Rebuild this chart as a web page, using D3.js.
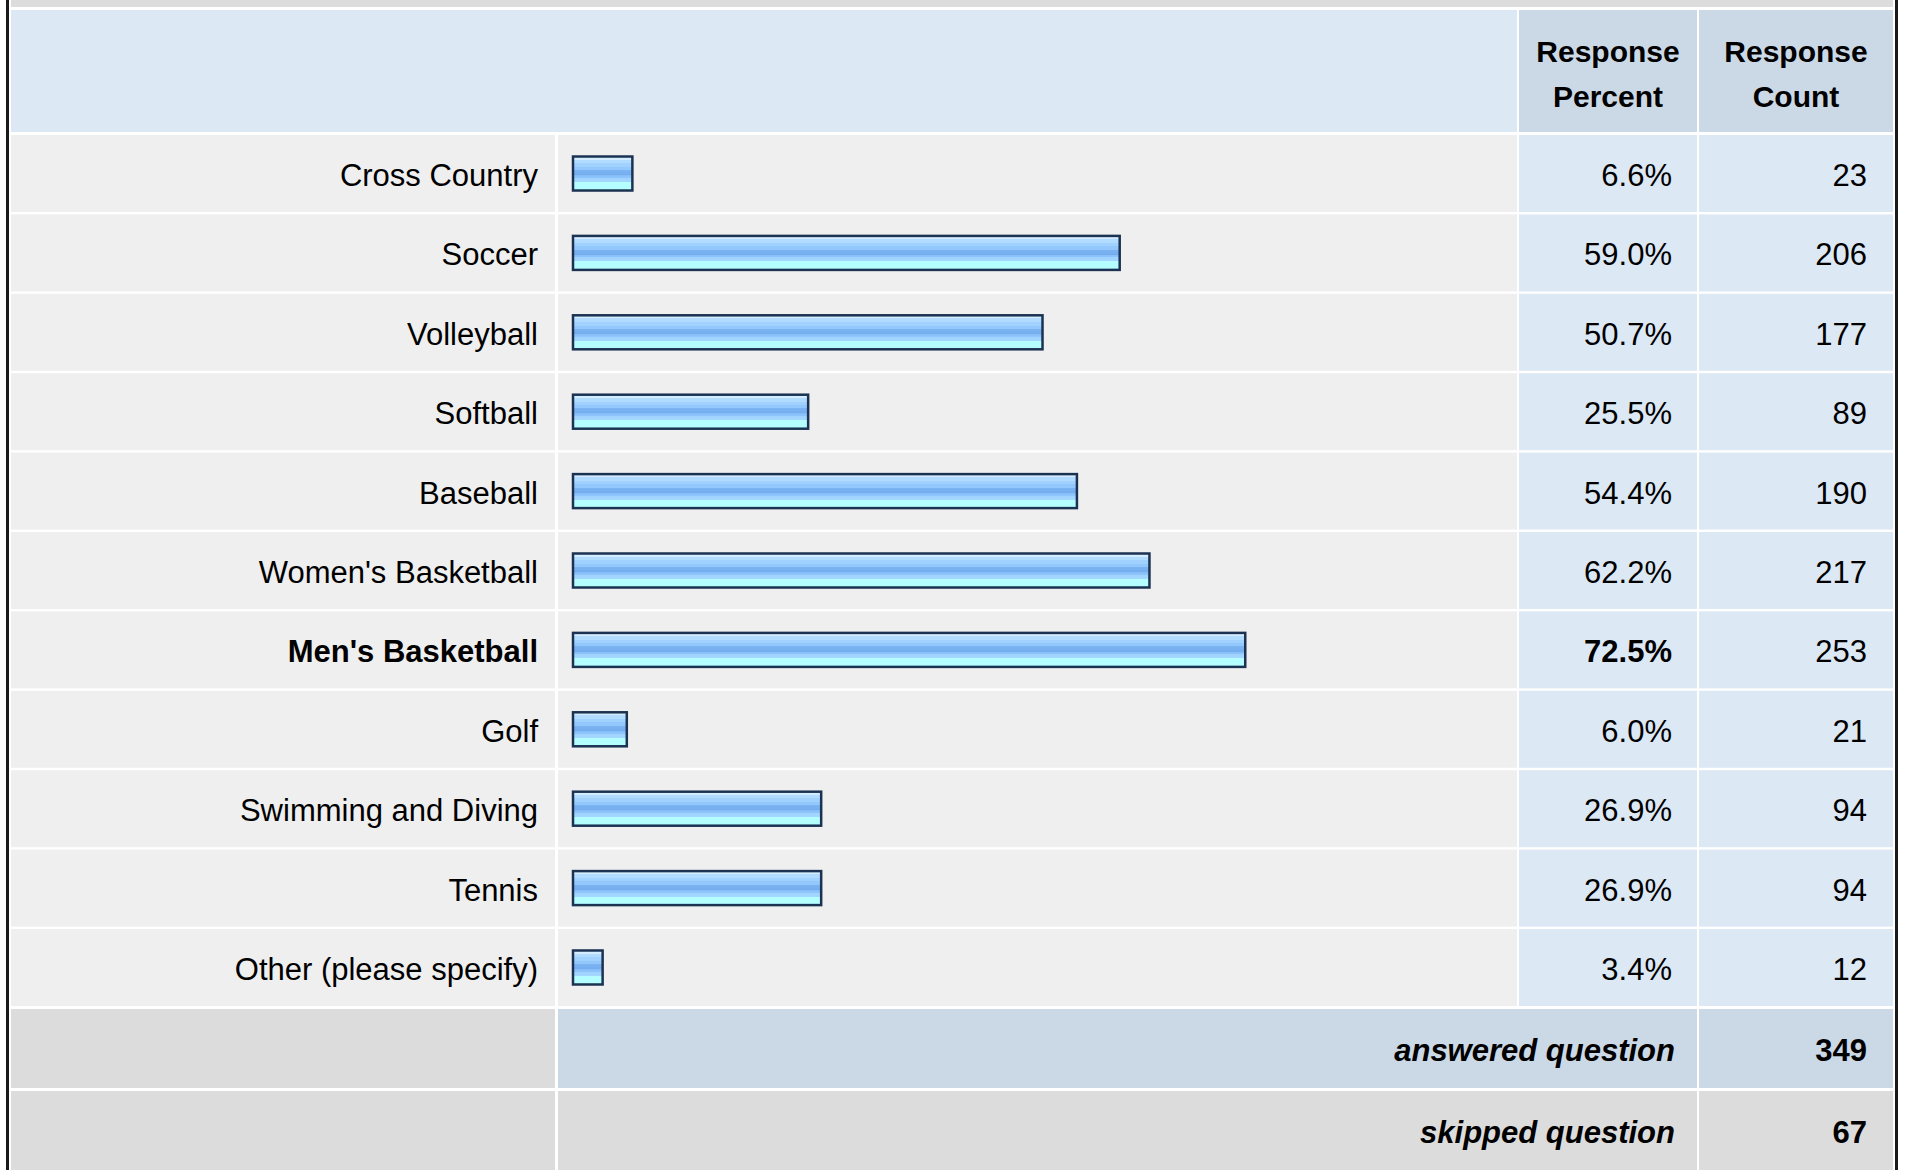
<!DOCTYPE html>
<html>
<head>
<meta charset="utf-8">
<script src="https://cdn.jsdelivr.net/npm/d3@7"></script>
<style>
  body { margin: 0; background: #fff; }
  svg { display: block; font-family: "Liberation Sans", Arial, sans-serif; }
</style>
</head>
<body>
<svg width="1907" height="1170"></svg>
<script>
// Data
var categories = ["Cross Country", "Soccer", "Volleyball", "Softball", "Baseball",
    "Women's Basketball", "Men's Basketball", "Golf", "Swimming and Diving", "Tennis",
    "Other (please specify)"];
var percents = [6.6, 59.0, 50.7, 25.5, 54.4, 62.2, 72.5, 6.0, 26.9, 26.9, 3.4];
var counts = [23, 206, 177, 89, 190, 217, 253, 21, 94, 94, 12];
var headerLines = [["Response", "Percent"], ["Response", "Count"]];
var summaryLabels = ["answered question", "skipped question"];
var summaryValues = [349, 67];

var svg = d3.select("svg"),
    width = +svg.attr("width"),
    height = +svg.attr("height");

// Columns
var col = {
    label: [11, 555],
    bar: [558, 1517],
    pct: [1519, 1697],
    cnt: [1699, 1893]
};

// Scales
var y = d3.scaleBand()
    .domain(categories)
    .range([135, 1006])
    .paddingInner(0.03);

var x = d3.scaleLinear()
    .domain([0, 100])
    .range([572, 1502]);

var maxPct = d3.max(percents);

// Bar gradient
var grad = svg.append("defs").append("linearGradient")
    .attr("id", "barGrad")
    .attr("x1", 0).attr("y1", 0).attr("x2", 0).attr("y2", 1);
var stops = [
    [0, "#d4ecff"], [0.09, "#d4ecff"], [0.09, "#b2dcff"], [0.2, "#b2dcff"],
    [0.2, "#a0d1ff"], [0.3, "#a0d1ff"], [0.3, "#93c8fd"], [0.4, "#93c8fd"],
    [0.4, "#7cb4f2"], [0.55, "#74adee"], [0.55, "#86bdf7"], [0.63, "#8fc6fd"],
    [0.63, "#a0d2ff"], [0.75, "#a4d8ff"], [0.75, "#b4feff"], [1, "#b4feff"]
];
grad.selectAll("stop")
    .data(stops)
    .enter().append("stop")
    .attr("offset", function(d) { return d[0]; })
    .attr("stop-color", function(d) { return d[1]; });

// Outer frame
svg.append("rect").attr("x", 6).attr("y", 0).attr("width", 3).attr("height", height).attr("fill", "#1a1a1a");
svg.append("rect").attr("x", 1895).attr("y", 0).attr("width", 3).attr("height", height).attr("fill", "#1a1a1a");
svg.append("rect").attr("x", 11).attr("y", 0).attr("width", col.cnt[1] - 11).attr("height", 7).attr("fill", "#dcdcdc");

// Header
var header = svg.append("g");
header.append("rect")
    .attr("x", col.label[0]).attr("y", 10)
    .attr("width", col.bar[1] - col.label[0]).attr("height", 122)
    .attr("fill", "#dde8f5");
[col.pct, col.cnt].forEach(function(c, i) {
    header.append("rect")
        .attr("x", c[0]).attr("y", 10)
        .attr("width", c[1] - c[0]).attr("height", 122)
        .attr("fill", "#cbd8e6");
    header.append("text")
        .attr("x", (c[0] + c[1]) / 2)
        .attr("text-anchor", "middle")
        .style("font-size", "30px")
        .style("font-weight", "bold")
        .attr("fill", "#000")
        .selectAll("tspan")
        .data(headerLines[i])
        .enter().append("tspan")
        .attr("x", (c[0] + c[1]) / 2)
        .attr("y", function(d, j) { return 62 + j * 45; })
        .text(function(d) { return d; });
});

// Body rows
var rows = svg.append("g")
    .selectAll("g")
    .data(categories)
    .enter().append("g")
    .attr("transform", function(d) { return "translate(0," + y(d) + ")"; });

var cells = [[col.label, "#efefef"], [col.bar, "#efefef"], [col.pct, "#dde8f5"], [col.cnt, "#dde8f5"]];
cells.forEach(function(c) {
    rows.append("rect")
        .attr("x", c[0][0])
        .attr("width", c[0][1] - c[0][0])
        .attr("height", y.bandwidth())
        .attr("fill", c[1]);
});

var mid = y.bandwidth() / 2;

rows.append("text")
    .attr("x", 538)
    .attr("y", mid + 12.5)
    .attr("text-anchor", "end")
    .style("font-size", "31px")
    .style("font-weight", function(d, i) { return percents[i] === maxPct ? "bold" : "normal"; })
    .text(function(d) { return d; });

rows.append("rect")
    .attr("x", x(0) + 1)
    .attr("y", mid - 17)
    .attr("width", function(d, i) { return x(percents[i]) - x(0) - 2; })
    .attr("height", 34)
    .attr("fill", "url(#barGrad)")
    .attr("stroke", "#1b3252")
    .attr("stroke-width", 2.5);

rows.append("text")
    .attr("x", 1672)
    .attr("y", mid + 12.5)
    .attr("text-anchor", "end")
    .style("font-size", "31px")
    .style("font-weight", function(d, i) { return percents[i] === maxPct ? "bold" : "normal"; })
    .text(function(d, i) { return percents[i].toFixed(1) + "%"; });

rows.append("text")
    .attr("x", 1867)
    .attr("y", mid + 12.5)
    .attr("text-anchor", "end")
    .style("font-size", "31px")
    .text(function(d, i) { return counts[i]; });

// Summary rows
var sumTop = [1009, 1091];
var sumH = [79, 79];
var midFill = ["#cbd8e6", "#dcdcdc"];
var summary = svg.append("g")
    .selectAll("g")
    .data(summaryLabels)
    .enter().append("g")
    .attr("transform", function(d, i) { return "translate(0," + sumTop[i] + ")"; });

summary.append("rect")
    .attr("x", col.label[0]).attr("width", col.label[1] - col.label[0])
    .attr("height", function(d, i) { return sumH[i]; })
    .attr("fill", "#dcdcdc");
summary.append("rect")
    .attr("x", col.bar[0]).attr("width", col.pct[1] - col.bar[0])
    .attr("height", function(d, i) { return sumH[i]; })
    .attr("fill", function(d, i) { return midFill[i]; });
summary.append("rect")
    .attr("x", col.cnt[0]).attr("width", col.cnt[1] - col.cnt[0])
    .attr("height", function(d, i) { return sumH[i]; })
    .attr("fill", function(d, i) { return midFill[i]; });

summary.append("text")
    .attr("x", 1675)
    .attr("y", 52)
    .attr("text-anchor", "end")
    .style("font-size", "31px")
    .style("font-weight", "bold")
    .style("font-style", "italic")
    .text(function(d) { return d; });

summary.append("text")
    .attr("x", 1867)
    .attr("y", 52)
    .attr("text-anchor", "end")
    .style("font-size", "31px")
    .style("font-weight", "bold")
    .text(function(d, i) { return summaryValues[i]; });
</script>
</body>
</html>
